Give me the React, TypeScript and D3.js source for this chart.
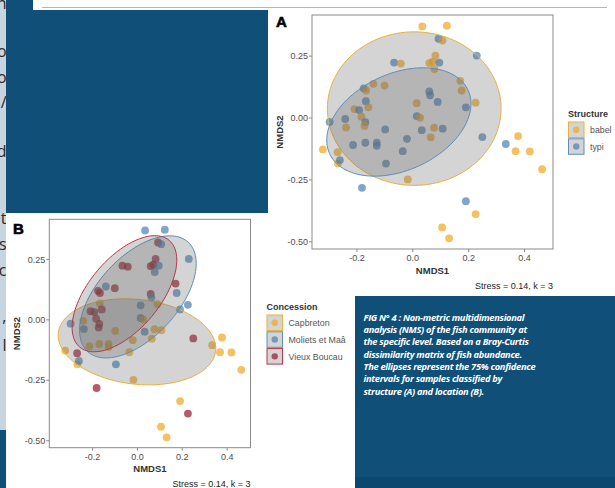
import React from 'react';
import * as d3 from 'd3';

// ---- data ----
const nmds1 = [0.034, 0.122, 0.092, 0.106, -0.067, -0.043, 0.059, 0.071, 0.081, 0.077, 0.095, 0.229, 0.170, 0.175, 0.225, 0.190, -0.141, -0.101, -0.176, -0.167, -0.168, -0.209, -0.192, -0.159, -0.184, -0.170, -0.173, -0.242, -0.239, -0.298, -0.099, 0.014, 0.059, 0.062, 0.089, 0.014, 0.026, 0.032, 0.076, 0.107, 0.064, -0.021, 0.249, 0.333, 0.377, 0.368, 0.419, 0.463, -0.322, -0.269, -0.268, -0.261, -0.214, -0.170, -0.129, -0.129, -0.096, -0.036, -0.018, -0.182, 0.190, 0.225, 0.105, 0.130];
const nmds2 = [0.370, 0.373, 0.320, 0.313, 0.224, 0.220, 0.222, 0.228, 0.252, 0.198, 0.224, 0.252, 0.150, 0.111, 0.062, 0.043, 0.138, 0.131, 0.120, 0.111, 0.068, 0.036, 0.032, 0.043, 0.005, -0.017, -0.032, -0.004, -0.038, -0.016, -0.046, 0.060, 0.107, 0.092, 0.065, 0.008, 0.001, -0.049, -0.039, -0.043, -0.078, -0.084, -0.077, -0.105, -0.073, -0.134, -0.135, -0.207, -0.127, -0.138, -0.184, -0.170, -0.109, -0.100, -0.100, -0.112, -0.184, -0.134, -0.248, -0.282, -0.336, -0.388, -0.442, -0.486];
const structure = ['babel', 'babel', 'typi', 'babel', 'typi', 'babel', 'babel', 'babel', 'babel', 'babel', 'typi', 'typi', 'babel', 'babel', 'babel', 'typi', 'babel', 'babel', 'typi', 'babel', 'typi', 'babel', 'typi', 'babel', 'babel', 'typi', 'babel', 'typi', 'babel', 'typi', 'typi', 'babel', 'typi', 'typi', 'typi', 'typi', 'babel', 'typi', 'babel', 'typi', 'babel', 'typi', 'typi', 'typi', 'babel', 'babel', 'babel', 'babel', 'babel', 'babel', 'babel', 'typi', 'typi', 'typi', 'typi', 'typi', 'typi', 'typi', 'babel', 'typi', 'typi', 'babel', 'babel', 'babel'];
const concession = ['Moliets et Maâ', 'Moliets et Maâ', 'Vieux Boucau', 'Moliets et Maâ', 'Vieux Boucau', 'Vieux Boucau', 'Vieux Boucau', 'Vieux Boucau', 'Vieux Boucau', 'Moliets et Maâ', 'Moliets et Maâ', 'Moliets et Maâ', 'Vieux Boucau', 'Moliets et Maâ', 'Moliets et Maâ', 'Moliets et Maâ', 'Moliets et Maâ', 'Vieux Boucau', 'Vieux Boucau', 'Vieux Boucau', 'Capbreton', 'Vieux Boucau', 'Vieux Boucau', 'Vieux Boucau', 'Vieux Boucau', 'Vieux Boucau', 'Vieux Boucau', 'Capbreton', 'Moliets et Maâ', 'Moliets et Maâ', 'Capbreton', 'Moliets et Maâ', 'Vieux Boucau', 'Moliets et Maâ', 'Capbreton', 'Moliets et Maâ', 'Capbreton', 'Moliets et Maâ', 'Capbreton', 'Capbreton', 'Capbreton', 'Capbreton', 'Vieux Boucau', 'Capbreton', 'Capbreton', 'Capbreton', 'Capbreton', 'Capbreton', 'Capbreton', 'Vieux Boucau', 'Capbreton', 'Moliets et Maâ', 'Capbreton', 'Capbreton', 'Capbreton', 'Capbreton', 'Moliets et Maâ', 'Capbreton', 'Capbreton', 'Vieux Boucau', 'Capbreton', 'Vieux Boucau', 'Capbreton', 'Capbreton'];

const structureLevels = ['babel', 'typi'];
const concessionLevels = ['Capbreton', 'Moliets et Maâ', 'Vieux Boucau'];

// 75% confidence ellipses: [centerX, centerY, axis1X, axis1Y, axis2X, axis2Y] in NMDS units
const ellipseBabel = [0.005, 0.038, 0.311, 0.0, 0.0, 0.31];
const ellipseTypi = [-0.05, -0.016, 0.2483, 0.1274, 0.0709, -0.1779];
const ellipseCapbreton = [-0.002, -0.091, 0.3506, -0.0378, -0.0216, -0.1739];
const ellipseMoliets = [0.002, 0.095, 0.2245, 0.226, 0.1311, -0.113];
const ellipseVieux = [-0.058, 0.108, 0.1995, 0.2207, 0.121, -0.0949];

const xTicks = [-0.2, 0.0, 0.2, 0.4];
const yTicks = [0.25, 0.0, -0.25, -0.5];
const xDomainA = [-0.361, 0.502];
const xDomainB = [-0.393, 0.504];
const yDomain = [-0.529, 0.416];

const captionLines = [
  'FIG N° 4 : Non-metric multidimensional',
  'analysis (NMS) of the fish community at',
  'the specific level. Based on a Bray-Curtis',
  'dissimilarity matrix of fish abundance.',
  'The ellipses represent the 75% confidence',
  'intervals for samples classified by',
  'structure (A) and location (B).',
];
const stressText = 'Stress = 0.14, k = 3';
const sideLetters = ['n', 'o', 'o', '/', 'd', 't', 's', 'c', ',', 'l'];
const sideLetterY = [9, 57, 83, 108, 157, 224, 250, 276, 322, 351];

// ---- styles ----
const DARK = '#0f4f78';
const pointFill: Record<string, string> = {
  babel: '#f0a824', typi: '#4e83b5',
  'Capbreton': '#f0a824', 'Moliets et Maâ': '#4e83b5', 'Vieux Boucau': '#9e1b2e',
};
const edgeColor: Record<string, string> = {
  babel: '#e8b13a', typi: '#5e8db8',
  'Capbreton': '#e8b13a', 'Moliets et Maâ': '#5e8db8', 'Vieux Boucau': '#b03a48',
};
const FONT = '"Liberation Sans", Arial, sans-serif';

function ellipsePath(e: number[], line: d3.Line<[number, number]>) {
  const pts: [number, number][] = d3.range(0, 120).map((i) => {
    const t = (2 * Math.PI * i) / 120;
    return [e[0] + e[2] * Math.cos(t) + e[4] * Math.sin(t), e[1] + e[3] * Math.cos(t) + e[5] * Math.sin(t)];
  });
  return line(pts) || '';
}

function Panel(props: {
  left: number; right: number; top: number; bottom: number; xDomain: number[];
  groups: string[]; ellipses: [string, number[]][];
  tag: string; tagX: number; tagY: number; yTitleX: number; xTitleY: number; stressY: number;
}) {
  const { left, right, top, bottom, xDomain, groups, ellipses } = props;
  const x = d3.scaleLinear().domain(xDomain).range([left, right]);
  const y = d3.scaleLinear().domain(yDomain).range([bottom, top]);
  const line = d3.line<[number, number]>().x((d) => x(d[0])).y((d) => y(d[1])).curve(d3.curveLinearClosed);
  return (
    <g>
      <g>
        {nmds1.map((v, i) => (
          <circle key={i} cx={x(v)} cy={y(nmds2[i])} r={3.9} fill={pointFill[groups[i]]} fillOpacity={0.72} />
        ))}
      </g>
      <g>
        {ellipses.map(([g, e]) => (
          <path key={g} d={ellipsePath(e, line)} fill="#666" fillOpacity={0.28} stroke={edgeColor[g]} strokeWidth={1} />
        ))}
      </g>
      <rect x={left} y={top} width={right - left} height={bottom - top} fill="none" stroke="#8a8a8a" strokeWidth={1} />
      {xTicks.map((t) => (
        <g key={'x' + t}>
          <line x1={x(t)} x2={x(t)} y1={bottom} y2={bottom + 3} stroke="#8a8a8a" />
          <text x={x(t)} y={bottom + 12} textAnchor="middle" fontFamily={FONT} fontSize={9} fill="#4d4d4d">{t.toFixed(1)}</text>
        </g>
      ))}
      {yTicks.map((t) => (
        <g key={'y' + t}>
          <line x1={left - 3} x2={left} y1={y(t)} y2={y(t)} stroke="#8a8a8a" />
          <text x={left - 4} y={y(t) + 3.2} textAnchor="end" fontFamily={FONT} fontSize={9} fill="#4d4d4d">{t.toFixed(2)}</text>
        </g>
      ))}
      <text x={(left + right) / 2} y={props.xTitleY} textAnchor="middle" fontFamily={FONT} fontWeight="bold" fontSize={9.5} fill="#333">NMDS1</text>
      <text transform={`translate(${props.yTitleX},${(top + bottom) / 2}) rotate(-90)`} textAnchor="middle" fontFamily={FONT} fontWeight="bold" fontSize={9.5} fill="#333">NMDS2</text>
      <text x={right} y={props.stressY} textAnchor="end" fontFamily={FONT} fontSize={9} fill="#222">{stressText}</text>
      <text x={props.tagX} y={props.tagY} fontFamily={FONT} fontWeight="900" fontSize={15} fill="#000" stroke="#000" strokeWidth={0.6}>{props.tag}</text>
    </g>
  );
}

function Legend(props: { x: number; y: number; title: string; levels: string[] }) {
  const { x, y, title, levels } = props;
  return (
    <g>
      <text x={x} y={y} fontFamily={FONT} fontWeight="bold" fontSize={9} fill="#333">{title}</text>
      {levels.map((l, i) => {
        const ky = y + 5 + i * 16.8;
        return (
          <g key={l}>
            <rect x={x + 0.5} y={ky} width={15.5} height={15.5} fill="#666" fillOpacity={0.28} stroke={edgeColor[l]} strokeWidth={1} />
            <circle cx={x + 8.25} cy={ky + 7.75} r={3.2} fill={pointFill[l]} fillOpacity={0.72} />
            <text x={x + 22} y={ky + 11} fontFamily={FONT} fontSize={8.8} fill="#555">{l}</text>
          </g>
        );
      })}
    </g>
  );
}

export default function App() {
  return (
    <svg width={615} height={488} style={{ position: 'absolute', left: 0, top: 0, display: 'block' }}>
      <defs>
        <clipPath id="strip"><rect x={0} y={0} width={6} height={430} /></clipPath>
      </defs>
      <rect x={0} y={0} width={615} height={488} fill="#fff" />
      {/* poster background */}
      <rect x={0} y={0} width={6} height={430} fill="#c7d5e1" />
      <g clipPath="url(#strip)">
        {sideLetters.map((c, i) => (
          <text key={i} x={6.5} y={sideLetterY[i]} textAnchor="end" fontFamily='"Open Sans", sans-serif' fontSize={16} fill="#2a2a2a">{c}</text>
        ))}
      </g>
      <rect x={0} y={430} width={6} height={58} fill={DARK} />
      <rect x={6} y={0} width={262} height={213} fill={DARK} />
      <rect x={33} y={0} width={582} height={10} fill="#fff" />
      <line x1={42} x2={607} y1={7.5} y2={7.5} stroke="#b5b5b5" strokeWidth={1} />
      <rect x={355} y={296} width={260} height={192} fill={DARK} />
      <rect x={355} y={477} width={260} height={11} fill="#0c4770" />

      <Panel left={312} right={553} top={15} bottom={249} xDomain={xDomainA}
        groups={structure}
        ellipses={[['babel', ellipseBabel], ['typi', ellipseTypi]]}
        tag="A" tagX={276} tagY={27} yTitleX={283} xTitleY={274} stressY={289} />
      <Legend x={568} y={117} title="Structure" levels={structureLevels} />

      <Panel left={49.3} right={250.5} top={219.3} bottom={447.7} xDomain={xDomainB}
        groups={concession}
        ellipses={[['Capbreton', ellipseCapbreton], ['Moliets et Maâ', ellipseMoliets], ['Vieux Boucau', ellipseVieux]]}
        tag="B" tagX={13} tagY={234} yTitleX={20} xTitleY={472} stressY={487} />
      <Legend x={266.5} y={310} title="Concession" levels={concessionLevels} />

      {captionLines.map((s, i) => (
        <text key={i} x={363.5} y={320.8 + i * 12.3} fontFamily='"Open Sans", sans-serif' fontStyle="italic" fontWeight="bold" fontSize={9.3} letterSpacing={-0.3} fill="#fff">{s}</text>
      ))}
    </svg>
  );
}
